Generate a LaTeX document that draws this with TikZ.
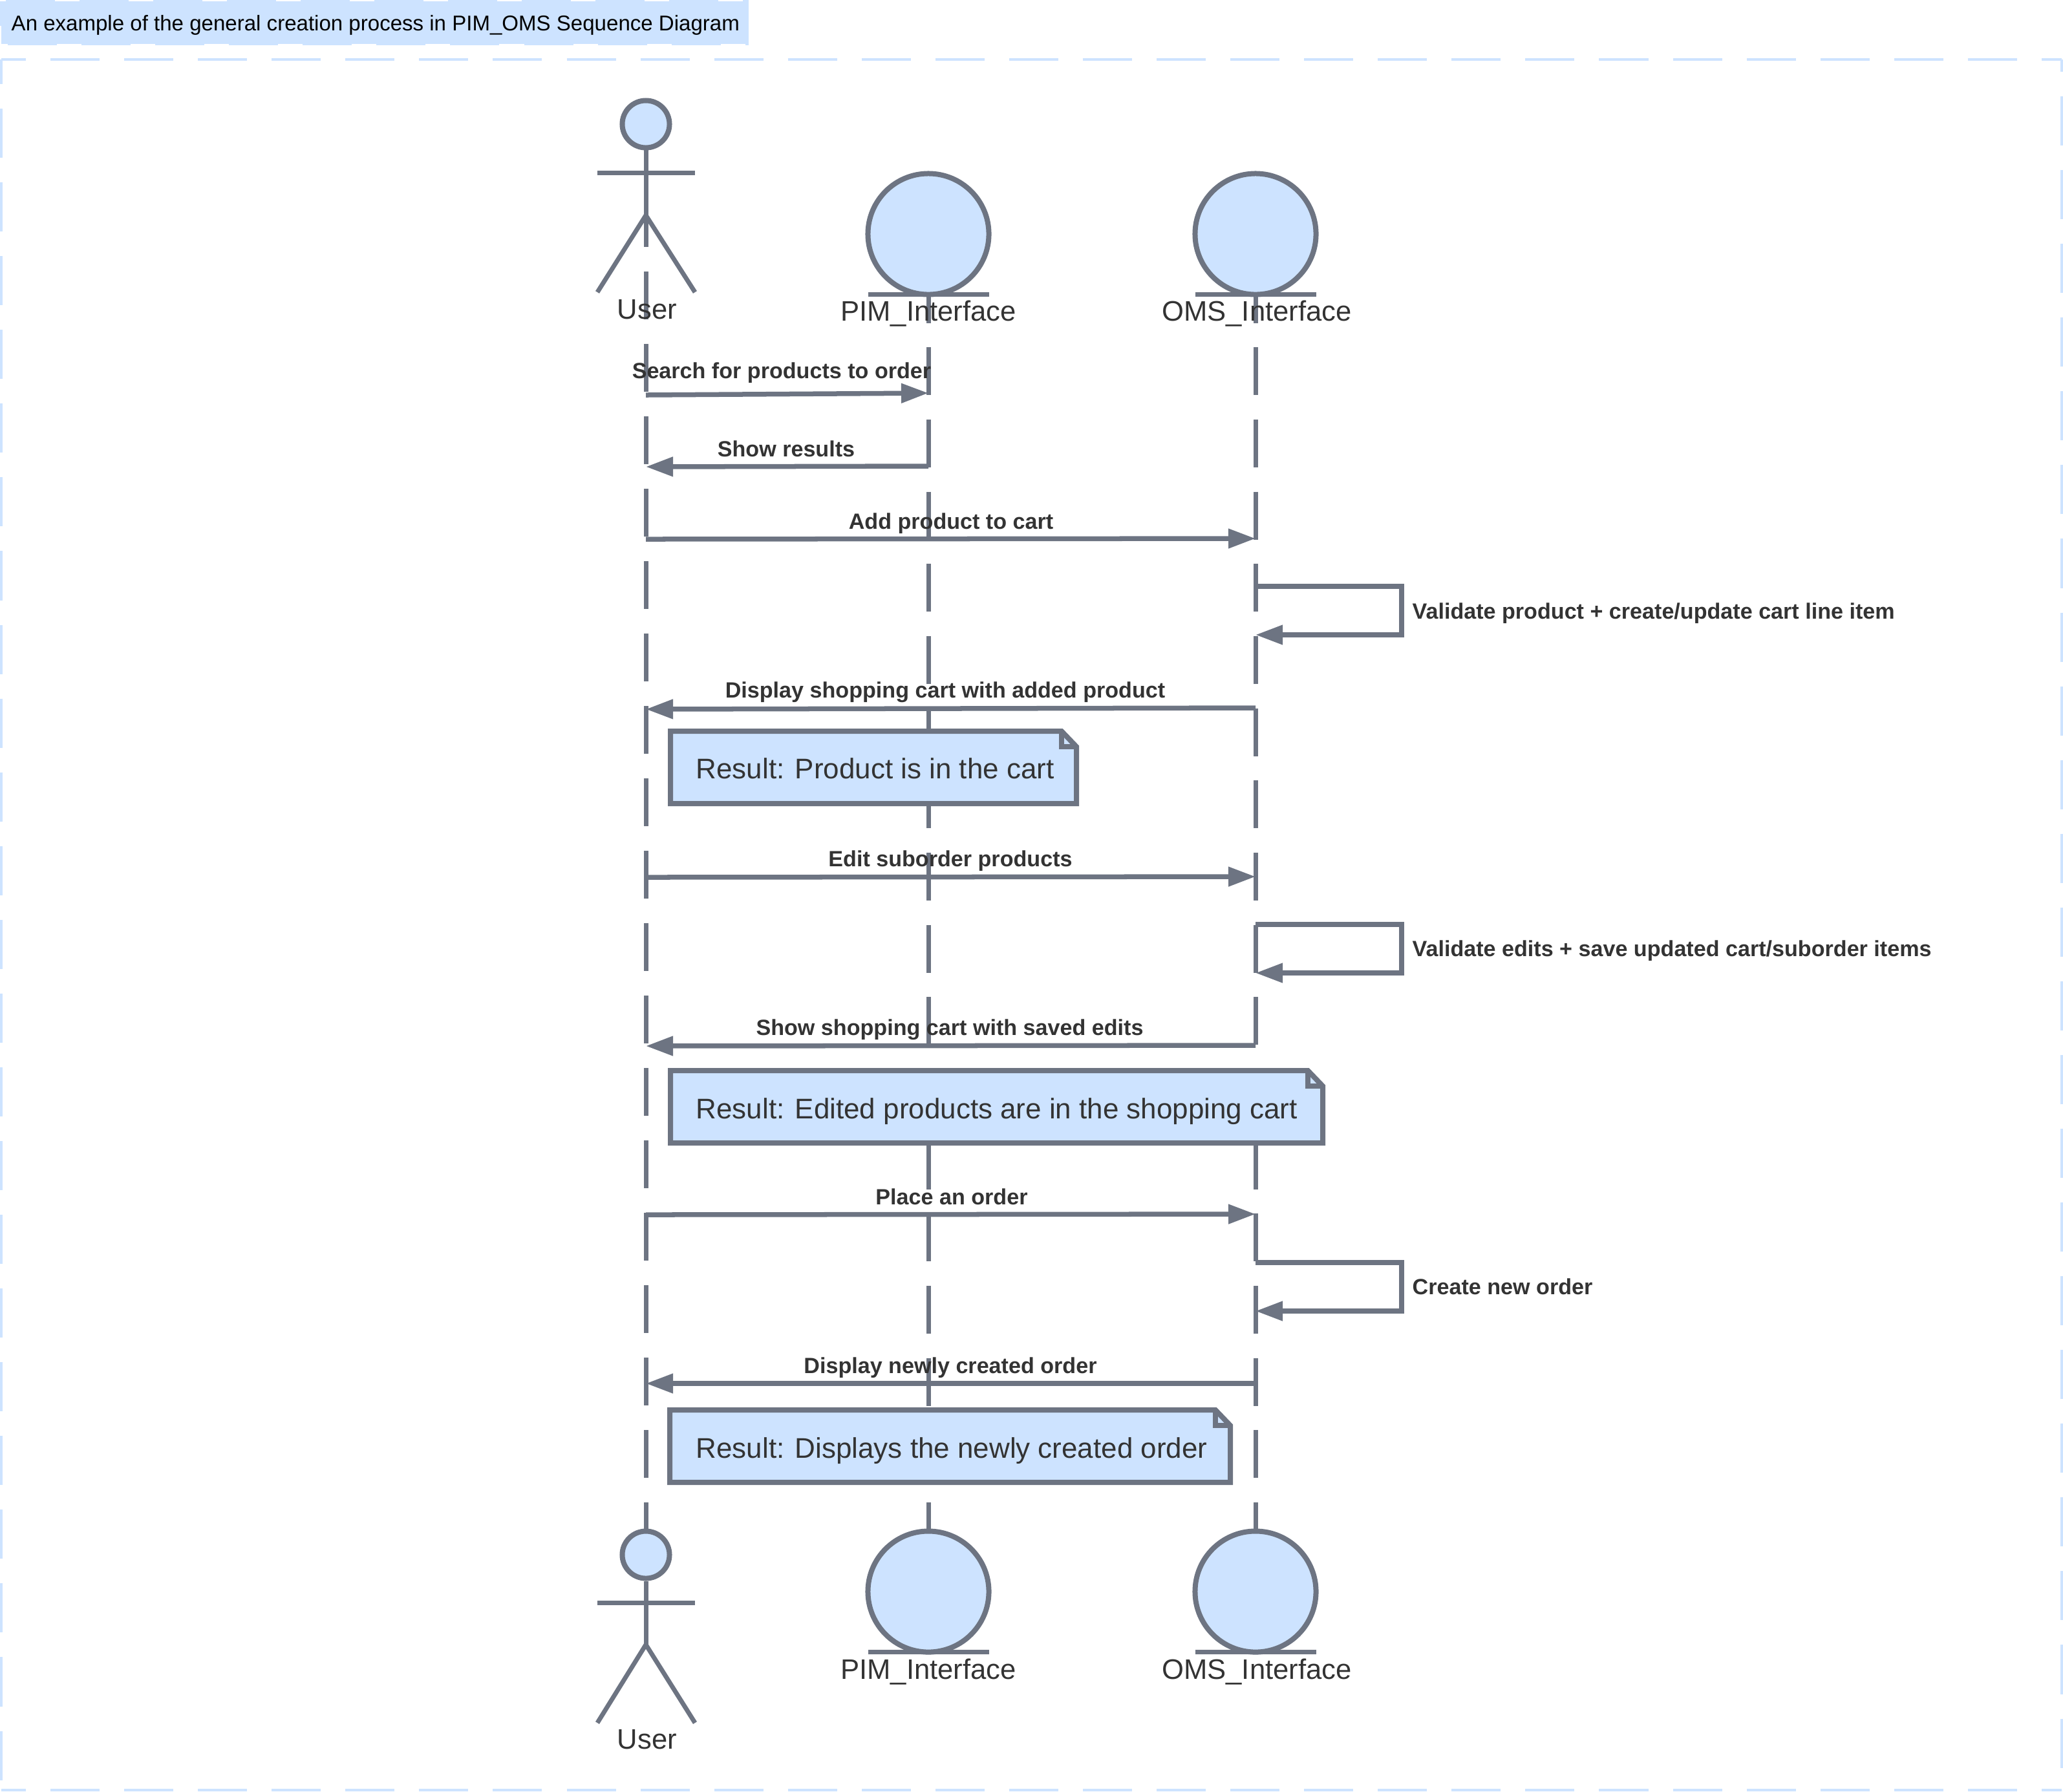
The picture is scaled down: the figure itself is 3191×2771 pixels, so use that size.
\documentclass[tikz,border=0pt]{standalone}
\usepackage{fontspec}
\setmainfont{Liberation Sans}
\usepackage{xcolor}
\usetikzlibrary{arrows.meta}
\definecolor{seqline}{RGB}{109,116,130}
\definecolor{seqfill}{RGB}{205,227,255}
\definecolor{seqtext}{RGB}{51,51,51}
\tikzset{
  frameline/.style={seqfill,line width=0.04cm,dash pattern=on 0.76cm off 0.38cm,dash phase=0.38cm},
  lifeline/.style={seqline,line width=0.07cm,dash pattern=on 0.74cm off 0.3794cm},
  stickline/.style={seqline,line width=0.07cm},
  msgline/.style={seqline,line width=0.075cm,line join=miter,-{Triangle[length=0.42cm,width=0.29cm]}},
  actorbody/.style={circle,draw=seqline,fill=seqfill,line width=0.08cm,inner sep=0pt},
  actorname/.style={anchor=base,text=seqtext,inner sep=0pt,font=\fontsize{12.4pt}{14pt}\selectfont},
  msgtext/.style={anchor=base,text=seqtext,inner sep=0pt,font=\fontsize{9.7pt}{11pt}\selectfont\bfseries},
  selftext/.style={msgtext,anchor=base west},
  notebox/.style={draw=seqline,fill=seqfill,line width=0.08cm,line join=miter},
  notetext/.style={anchor=base west,text=seqtext,inner sep=0pt,font=\fontsize{12.5pt}{14pt}\selectfont},
}
\begin{document}
\begin{tikzpicture}[x=0.01cm,y=-0.01cm]
  \useasboundingbox (0,0) rectangle (3191,2771);
  % --- title tab and dashed frame ---
  \draw[frameline,fill=seqfill] (2,2) rectangle (1156,68);
  \node[anchor=base west,inner sep=0pt,font=\fontsize{9.4pt}{11pt}\selectfont] (title) at (17,47)
    {An example of the general creation process in PIM\_OMS Sequence Diagram};
  \coordinate (framenw) at (2,92);
  \coordinate (framene) at (3189,92);
  \coordinate (framesw) at (2,2769);
  \coordinate (framese) at (3189,2769);
  \draw[frameline] (framenw) -- (framene);
  \draw[frameline] (framenw) -- (framesw);
  \draw[frameline] (framesw) -- (framese);
  \draw[frameline,dash phase=0.57cm] (framene) -- (framese);
  % --- lifelines ---
  \coordinate (usertopline) at (999,196);
  \coordinate (userbotline) at (999,2366);
  \coordinate (pimtopline) at (1436,314);
  \coordinate (pimbotline) at (1436,2366);
  \coordinate (omstopline) at (1942,314);
  \coordinate (omsbotline) at (1942,2366);
  \draw[lifeline] (usertopline) -- (userbotline);
  \draw[lifeline,dash pattern=on 0.74cm off 0.376cm] (pimtopline) -- (pimbotline);
  \draw[lifeline,dash pattern=on 0.74cm off 0.376cm] (omstopline) -- (omsbotline);
  % --- actors on top ---
  \node[actorbody,minimum size=0.73cm] (userhead) at (999,192) {};
  \coordinate (userarml) at (924,267);
  \coordinate (userarmr) at (1075,267);
  \coordinate (userhip) at (999,333);
  \coordinate (userlegl) at (924,452);
  \coordinate (userlegr) at (1075,452);
  \draw[stickline] (userhead.south) -- (userhip);
  \draw[stickline] (userarml) -- (userarmr);
  \draw[stickline] (userlegl) -- (userhip) -- (userlegr);
  \node[actorname] (usertop) at (1001,493) {User};
  \node[actorbody,minimum size=1.87cm] (pimball) at (1436,362) {};
  \coordinate (pimbarl) at (1343,455);
  \coordinate (pimbarr) at (1530,455);
  \draw[stickline] (pimbarl) -- (pimbarr);
  \node[actorname] (pimtop) at (1436,496) {PIM\_Interface};
  \node[actorbody,minimum size=1.87cm] (omsball) at (1942,362) {};
  \coordinate (omsbarl) at (1849,455);
  \coordinate (omsbarr) at (2036,455);
  \draw[stickline] (omsbarl) -- (omsbarr);
  \node[actorname] (omstop) at (1944,496) {OMS\_Interface};
  % --- actors at the bottom ---
  \node[actorbody,minimum size=0.73cm] (userheadb) at (999,2405) {};
  \coordinate (userarmlb) at (924,2479);
  \coordinate (userarmrb) at (1075,2479);
  \coordinate (userhipb) at (999,2544);
  \coordinate (userleglb) at (924,2665);
  \coordinate (userlegrb) at (1075,2665);
  \draw[stickline] (userheadb.south) -- (userhipb);
  \draw[stickline] (userarmlb) -- (userarmrb);
  \draw[stickline] (userleglb) -- (userhipb) -- (userlegrb);
  \node[actorname] (userbot) at (1001,2705) {User};
  \node[actorbody,minimum size=1.87cm] (pimballb) at (1436,2462) {};
  \coordinate (pimbarlb) at (1343,2555);
  \coordinate (pimbarrb) at (1530,2555);
  \draw[stickline] (pimbarlb) -- (pimbarrb);
  \node[actorname] (pimbot) at (1436,2597) {PIM\_Interface};
  \node[actorbody,minimum size=1.87cm] (omsballb) at (1942,2462) {};
  \coordinate (omsbarlb) at (1849,2555);
  \coordinate (omsbarrb) at (2036,2555);
  \draw[stickline] (omsbarlb) -- (omsbarrb);
  \node[actorname] (omsbot) at (1944,2597) {OMS\_Interface};
  % --- search and add to cart ---
  \coordinate (m1a) at (999,611); \coordinate (m1b) at (1436,608);
  \draw[msgline] (m1a) -- (m1b);
  \node[msgtext] (m1) at (1209,585) {Search for products to order};
  \coordinate (m2a) at (1436,721); \coordinate (m2b) at (999,722);
  \draw[msgline] (m2a) -- (m2b);
  \node[msgtext] (m2) at (1216,706) {Show results};
  \coordinate (m3a) at (999,834); \coordinate (m3b) at (1942,833);
  \draw[msgline] (m3a) -- (m3b);
  \node[msgtext] (m3) at (1471,818) {Add product to cart};
  \coordinate (s1a) at (1942,907); \coordinate (s1b) at (2168,907);
  \coordinate (s1c) at (2168,982); \coordinate (s1d) at (1942,982);
  \draw[msgline] (s1a) -- (s1b) -- (s1c) -- (s1d);
  \node[selftext] (s1) at (2184,957) {Validate product + create/update cart line item};
  \coordinate (m4a) at (1942,1095); \coordinate (m4b) at (999,1097);
  \draw[msgline] (m4a) -- (m4b);
  \node[msgtext] (m4) at (1462,1079) {Display shopping cart with added product};
  % first note
  \draw[notebox] (1037,1131) -- (1642,1131) -- (1665,1155) -- (1665,1243) -- (1037,1243) -- cycle;
  \draw[notebox,fill=none] (1642,1131) -- (1642,1155) -- (1665,1155);
  \node[notetext] (note1) at (1076,1204) {Result: Product is in the cart};
  % --- edit suborder ---
  \coordinate (m5a) at (999,1357); \coordinate (m5b) at (1942,1356);
  \draw[msgline] (m5a) -- (m5b);
  \node[msgtext] (m5) at (1470,1340) {Edit suborder products};
  \coordinate (s2a) at (1942,1430); \coordinate (s2b) at (2168,1430);
  \coordinate (s2c) at (2168,1505); \coordinate (s2d) at (1942,1505);
  \draw[msgline] (s2a) -- (s2b) -- (s2c) -- (s2d);
  \node[selftext] (s2) at (2184,1479) {Validate edits + save updated cart/suborder items};
  \coordinate (m6a) at (1942,1617); \coordinate (m6b) at (999,1618);
  \draw[msgline] (m6a) -- (m6b);
  \node[msgtext] (m6) at (1469,1601) {Show shopping cart with saved edits};
  % second note
  \draw[notebox] (1037,1656) -- (2023,1656) -- (2046,1680) -- (2046,1768) -- (1037,1768) -- cycle;
  \draw[notebox,fill=none] (2023,1656) -- (2023,1680) -- (2046,1680);
  \node[notetext] (note2) at (1076,1730) {Result: Edited products are in the shopping cart};
  % --- place order ---
  \coordinate (m7a) at (999,1879); \coordinate (m7b) at (1942,1878);
  \draw[msgline] (m7a) -- (m7b);
  \node[msgtext] (m7) at (1472,1863) {Place an order};
  \coordinate (s3a) at (1942,1953); \coordinate (s3b) at (2168,1953);
  \coordinate (s3c) at (2168,2028); \coordinate (s3d) at (1942,2028);
  \draw[msgline] (s3a) -- (s3b) -- (s3c) -- (s3d);
  \node[selftext] (s3) at (2184,2002) {Create new order};
  \coordinate (m8a) at (1942,2140); \coordinate (m8b) at (999,2140);
  \draw[msgline] (m8a) -- (m8b);
  \node[msgtext] (m8) at (1470,2124) {Display newly created order};
  % third note
  \draw[notebox] (1036,2181) -- (1880,2181) -- (1903,2205) -- (1903,2293) -- (1036,2293) -- cycle;
  \draw[notebox,fill=none] (1880,2181) -- (1880,2205) -- (1903,2205);
  \node[notetext] (note3) at (1076,2255) {Result: Displays the newly created order};
\end{tikzpicture}
\end{document}
